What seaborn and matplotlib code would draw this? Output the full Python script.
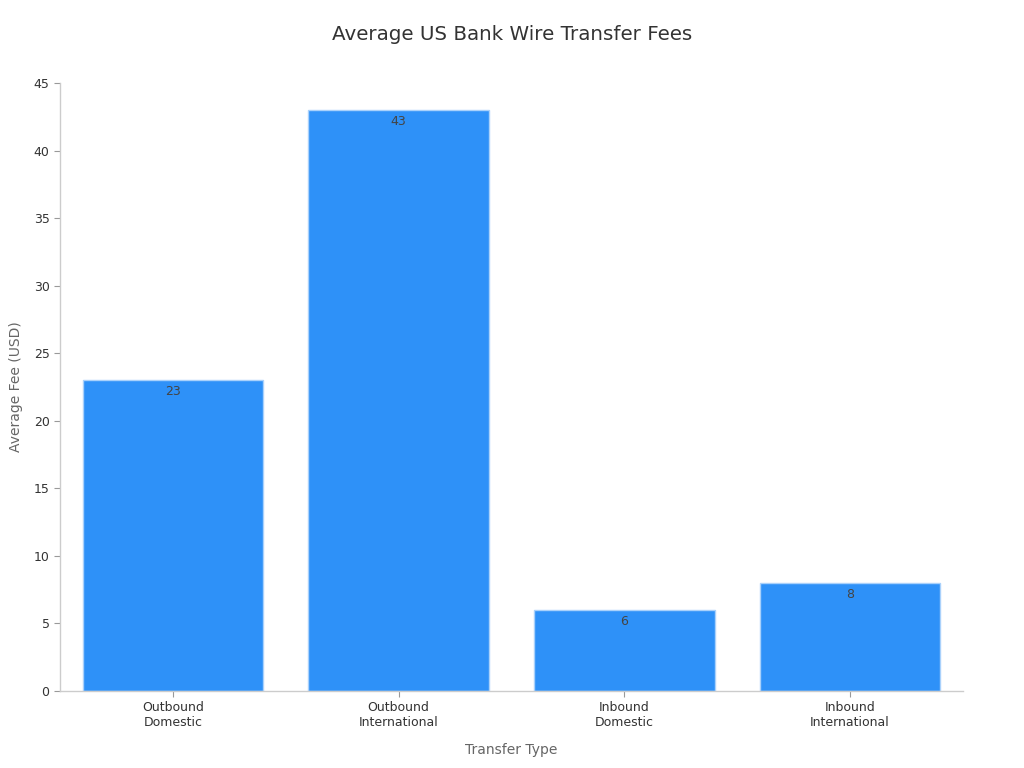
import matplotlib
matplotlib.use("Agg")
import matplotlib.pyplot as plt
import seaborn as sns
import pandas as pd

categories = ["Outbound\nDomestic", "Outbound\nInternational", "Inbound\nDomestic", "Inbound\nInternational"]
fees = [23, 43, 6, 8]

df = pd.DataFrame({"type": categories, "fee": fees})

sns.set_theme(style="ticks")
plt.rcParams['font.family'] = ['DejaVu Sans']

fig = plt.figure(figsize=(10.24, 7.68), dpi=100)
ax = fig.add_axes([0.0586, 0.1003, 0.8818, 0.7917])

# bars
sns.barplot(data=df, x="type", y="fee", color="#2E91F8", saturation=1,
            width=0.80, edgecolor="#a9d1fb", linewidth=1, ax=ax)

# value labels just inside the top of each bar
for i, v in enumerate(fees):
    ax.text(i, v - 0.35, str(v), ha="center", va="top", fontsize=9, color="#444444")

ax.set_xlim(-0.5, 3.5)
ax.set_ylim(0, 45)
ax.set_yticks(range(0, 46, 5))
ax.set_xlabel("Transfer Type", fontsize=10, color="#666666", labelpad=10)
ax.set_ylabel("Average Fee (USD)", fontsize=10, color="#666666", labelpad=8)
fig.suptitle("Average US Bank Wire Transfer Fees", fontsize=14.3, color="#333333", y=0.968)

ax.tick_params(axis="both", labelsize=9, colors="#333333", length=4, width=0.8)
ax.tick_params(axis="x", color="#999999")
ax.tick_params(axis="y", color="#999999")
for s in ["top", "right"]:
    ax.spines[s].set_visible(False)
for s in ["left", "bottom"]:
    ax.spines[s].set_color("#cccccc")
    ax.spines[s].set_linewidth(1)

fig.savefig("out.png", dpi=100)
